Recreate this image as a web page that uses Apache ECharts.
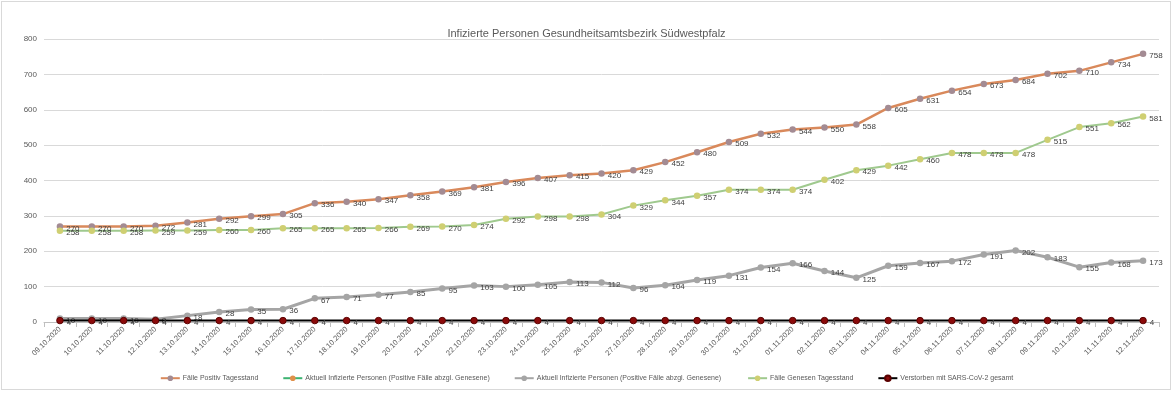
<!DOCTYPE html>
<html><head><meta charset="utf-8">
<script src="https://cdn.jsdelivr.net/npm/echarts@6/dist/echarts.min.js"></script>
<style>html,body{margin:0;padding:0;background:#fff}#c{width:1173px;height:393px}
#frame{position:absolute;left:1px;top:1px;width:1168px;height:387px;border:1px solid #d9d9d9;pointer-events:none}</style>
</head><body><div id="c"></div><div id="frame"></div>
<script>
const title = 'Infizierte Personen Gesundheitsamtsbezirk Südwestpfalz';
const dates = ['09.10.2020','10.10.2020','11.10.2020','12.10.2020','13.10.2020','14.10.2020','15.10.2020','16.10.2020','17.10.2020','18.10.2020','19.10.2020','20.10.2020','21.10.2020','22.10.2020','23.10.2020','24.10.2020','25.10.2020','26.10.2020','27.10.2020','28.10.2020','29.10.2020','30.10.2020','31.10.2020','01.11.2020','02.11.2020','03.11.2020','04.11.2020','05.11.2020','06.11.2020','07.11.2020','08.11.2020','09.11.2020','10.11.2020','11.11.2020','12.11.2020'];
const positiv = [270,270,270,272,281,292,299,305,336,340,347,358,369,381,396,407,415,420,429,452,480,509,532,544,550,558,605,631,654,673,684,702,710,734,758];
const aktuellLeer = [];
const aktuell = [10,10,10,8,18,28,35,36,67,71,77,85,95,103,100,105,113,112,96,104,119,131,154,166,144,125,159,167,172,191,202,183,155,168,173];
const genesen = [258,258,258,259,259,260,260,265,265,265,266,269,270,274,292,298,298,304,329,344,357,374,374,374,402,429,442,460,478,478,478,515,551,562,581];
const verstorben = [4,4,4,4,4,4,4,4,4,4,4,4,4,4,4,4,4,4,4,4,4,4,4,4,4,4,4,4,4,4,4,4,4,4,4];
const yTicks = {min:0, max:800, interval:100};

const FONT = 'Liberation Sans';
const lbl = {show:true, position:'right', distance:3, offset:[0,2], fontSize:8, color:'#404040', fontFamily:FONT};
const chart = echarts.init(document.getElementById('c'));
chart.setOption({
  animation:false,
  textStyle:{fontFamily:FONT},
  title:{text:title, left:'center', top:23, textStyle:{fontSize:11, fontWeight:'normal', color:'#595959', fontFamily:FONT}},
  grid:{left:44, right:14, top:39, bottom:71},
  legend:{bottom:6, left:'center', itemWidth:19, itemHeight:7, itemGap:24, textStyle:{fontSize:7, color:'#595959', padding:[0,0,0,-2]},
    data:['Fälle Positiv Tagesstand','Aktuell Infizierte Personen (Positive Fälle abzgl. Genesene)','Aktuell Infizierte Personen (Positive Fälle abzgl. Genesene) ','Fälle Genesen Tagesstand','Verstorben mit SARS-CoV-2 gesamt']},
  xAxis:{type:'category', data:dates, boundaryGap:true,
    axisLine:{lineStyle:{color:'#bfbfbf'}}, axisTick:{show:true, alignWithLabel:false, lineStyle:{color:'#bfbfbf'}},
    axisLabel:{rotate:45, fontSize:7.5, color:'#595959', interval:0, margin:6}},
  yAxis:{type:'value', min:yTicks.min, max:yTicks.max, interval:yTicks.interval,
    axisLine:{show:false}, axisTick:{show:false},
    axisLabel:{fontSize:8, color:'#595959', margin:7},
    splitLine:{lineStyle:{color:'#d9d9d9'}}},
  series:[
    {name:'Fälle Positiv Tagesstand', type:'line', data:positiv, symbol:'circle', symbolSize:6.5,
      lineStyle:{color:'#d9895b', width:2.5}, itemStyle:{color:'#a38b93'}, label:lbl, z:3},
    {name:'Aktuell Infizierte Personen (Positive Fälle abzgl. Genesene)', type:'line', data:aktuellLeer, symbol:'circle', symbolSize:6.5,
      lineStyle:{color:'#3cb371', width:2.5}, itemStyle:{color:'#e0904a'}},
    {name:'Aktuell Infizierte Personen (Positive Fälle abzgl. Genesene) ', type:'line', data:aktuell, symbol:'circle', symbolSize:6.5,
      lineStyle:{color:'#a5a5a5', width:3}, itemStyle:{color:'#a5a5a5'}, label:lbl, z:3},
    {name:'Fälle Genesen Tagesstand', type:'line', data:genesen, symbol:'circle', symbolSize:6.5,
      lineStyle:{color:'#9fc98e', width:2}, itemStyle:{color:'#cfcf72'}, label:lbl, z:3},
    {name:'Verstorben mit SARS-CoV-2 gesamt', type:'line', data:verstorben, symbol:'circle', symbolSize:6.5,
      lineStyle:{color:'#000000', width:2}, itemStyle:{color:'#8b0a0a', borderColor:'#5a0000', borderWidth:1}, label:lbl, z:4}
  ]
});
</script></body></html>
